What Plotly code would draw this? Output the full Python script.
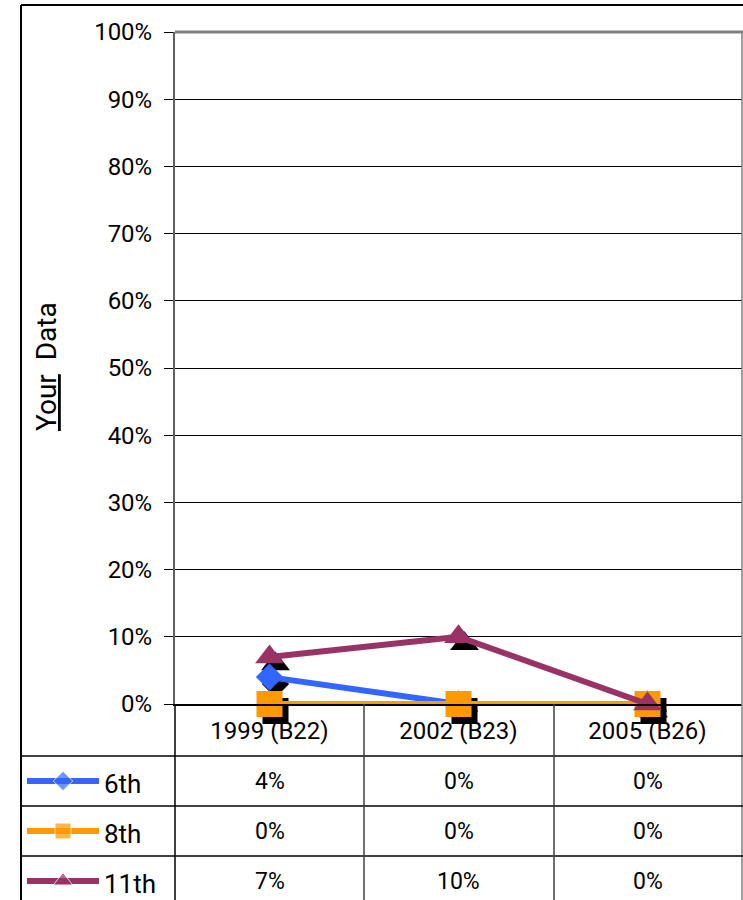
import plotly.graph_objects as go

# ---- data ----
categories = ["1999 (B22)", "2002 (B23)", "2005 (B26)"]
series_names = ["6th", "8th", "11th"]
vals_6th = [0.04, 0.00, 0.00]
vals_8th = [0.00, 0.00, 0.00]
vals_11th = [0.07, 0.10, 0.00]
y_ticks = [0, 0.1, 0.2, 0.3, 0.4, 0.5, 0.6, 0.7, 0.8, 0.9, 1.0]

colors = ["#3366FF", "#FF9900", "#993366"]
symbols = ["diamond", "square", "triangle-up"]
msizes = [21, 26, 25]
key_sizes = [15, 16, 17]
series_vals = [vals_6th, vals_8th, vals_11th]

W, H = 743, 900
FONT = "Roboto"

def px(x):
    return x / W

def py(y):
    return 1 - y / H

# plot area in pixels
PL, PR, PT, PB = 175, 742, 32, 704
xdom = [px(PL), px(PR)]
ydom = [py(PB), py(PT)]

# shadow axes: same scale, offset by a few pixels, extended domain so
# nothing is hidden at the axis edges
SDX, SDY = 6, 7
EXT = 40
cat_w = (PR - PL) / 3.0
k = float(PB - PT)
sh_xdom = [px(PL - EXT), px(PR)]
sh_xrange = [-0.5 - (SDX + EXT) / cat_w, 2.5 - SDX / cat_w]
sh_ydom = [py(PB + EXT), py(PT)]
sh_yrange = [(SDY - EXT) / k, 1 + SDY / k]

fig = go.Figure()

# shadows (drawn first, on shifted axes x/y)
for vals, sym, ms in zip(series_vals, symbols, msizes):
    fig.add_trace(go.Scatter(
        x=[0, 1, 2], y=vals, mode="markers",
        marker=dict(symbol=sym, size=ms, color="black"),
        xaxis="x", yaxis="y", showlegend=False, cliponaxis=False,
        hoverinfo="skip"))

# main series on x2/y2
for name, vals, col, sym, ms in zip(series_names, series_vals, colors, symbols, msizes):
    fig.add_trace(go.Scatter(
        x=categories, y=vals, mode="lines+markers", name=name,
        line=dict(color=col, width=6),
        marker=dict(symbol=sym, size=ms, color=col),
        xaxis="x2", yaxis="y2", showlegend=False, cliponaxis=False))

# legend keys in table (pixel axes x3/y3)
row_centers = [781, 831, 881]
for name, col, sym, ks, rc in zip(series_names, colors, symbols, key_sizes, row_centers):
    fig.add_trace(go.Scatter(
        x=[27, 63, 99], y=[rc, rc, rc], mode="lines+markers",
        line=dict(color=col, width=6),
        marker=dict(symbol=sym, size=[0, ks, 0], color=col),
        xaxis="x3", yaxis="y3", showlegend=False, hoverinfo="skip"))

layout = dict(
    template="none",
    width=W, height=H, autosize=False,
    margin=dict(l=0, r=0, t=0, b=0, pad=0),
    paper_bgcolor="white", plot_bgcolor="rgba(0,0,0,0)",
    font=dict(family=FONT, size=22, color="black"),
    showlegend=False,
    xaxis=dict(domain=sh_xdom, range=sh_xrange, visible=False,
               fixedrange=True, automargin=False),
    yaxis=dict(domain=sh_ydom, range=sh_yrange, visible=False,
               fixedrange=True, automargin=False),
    xaxis2=dict(domain=xdom, anchor="y2", type="category", range=[-0.5, 2.5],
                showgrid=False, showline=True, linecolor="black", linewidth=2,
                ticks="", tickfont=dict(family=FONT, size=24), ticklabelstandoff=4,
                zeroline=False, automargin=False, fixedrange=True),
    yaxis2=dict(domain=ydom, anchor="x2", range=[0, 1], tickvals=y_ticks,
                tickformat=".0%", showgrid=True, gridcolor="black", gridwidth=1,
                showline=True, linecolor="#606060", linewidth=2,
                ticks="outside", ticklen=9, tickcolor="black", tickwidth=1,
                tickfont=dict(family=FONT, size=24), ticklabelstandoff=7,
                zeroline=False, automargin=False, fixedrange=True),
    xaxis3=dict(domain=[0, 1], range=[0, W], visible=False, fixedrange=True,
                anchor="y3", automargin=False),
    yaxis3=dict(domain=[0, 1], range=[H, 0], visible=False, fixedrange=True,
                anchor="x3", automargin=False),
)

shapes = []
def hline(y, x0, x1, color="black", width=1):
    shapes.append(dict(type="line", xref="paper", yref="paper",
                       x0=px(x0), x1=px(x1), y0=py(y), y1=py(y),
                       line=dict(color=color, width=width)))

def vline(x, y0, y1, color="black", width=1):
    shapes.append(dict(type="line", xref="paper", yref="paper",
                       x0=px(x), x1=px(x), y0=py(y0), y1=py(y1),
                       line=dict(color=color, width=width)))

# outer border
hline(5, 21, 743, width=2)
vline(21, 5, 900, width=2)
# plot top border & right border
hline(PT, PL, 743, color="#808080", width=3)
vline(PR, PT, 900, color="#808080", width=1.5)
# table lines
for yy in [756, 806, 856]:
    hline(yy, 21, 743, width=1.5)
vline(PL, PB, 900, width=1.5)
for xx in [364, 554]:
    vline(xx, PB, 900, color="#404040", width=1.5)
layout["shapes"] = shapes

annotations = []
# y axis title
annotations.append(dict(
    text="<u>Your</u>\u00a0\u00a0Data", xref="paper", yref="paper",
    x=px(46), y=py(367), showarrow=False, textangle=-90,
    font=dict(family=FONT, size=28, color="black"),
    xanchor="center", yanchor="middle"))
# table values
for vals, rc in zip(series_vals, row_centers):
    for cat, v in zip(categories, vals):
        annotations.append(dict(
            text=f"{round(v * 100)}%", xref="x2", yref="paper",
            x=cat, y=py(rc), showarrow=False,
            font=dict(family=FONT, size=23, color="black"),
            xanchor="center", yanchor="middle"))
# legend labels
for name, rc in zip(series_names, row_centers):
    annotations.append(dict(
        text=name, xref="paper", yref="paper", x=px(102), y=py(rc + 3),
        showarrow=False, font=dict(family=FONT, size=26, color="black"),
        xanchor="left", yanchor="middle"))
layout["annotations"] = annotations

fig.update_layout(**layout)
fig.write_html("out.html", config={"displayModeBar": False},
               post_script="document.body.style.margin='0';document.body.style.overflow='hidden';")
